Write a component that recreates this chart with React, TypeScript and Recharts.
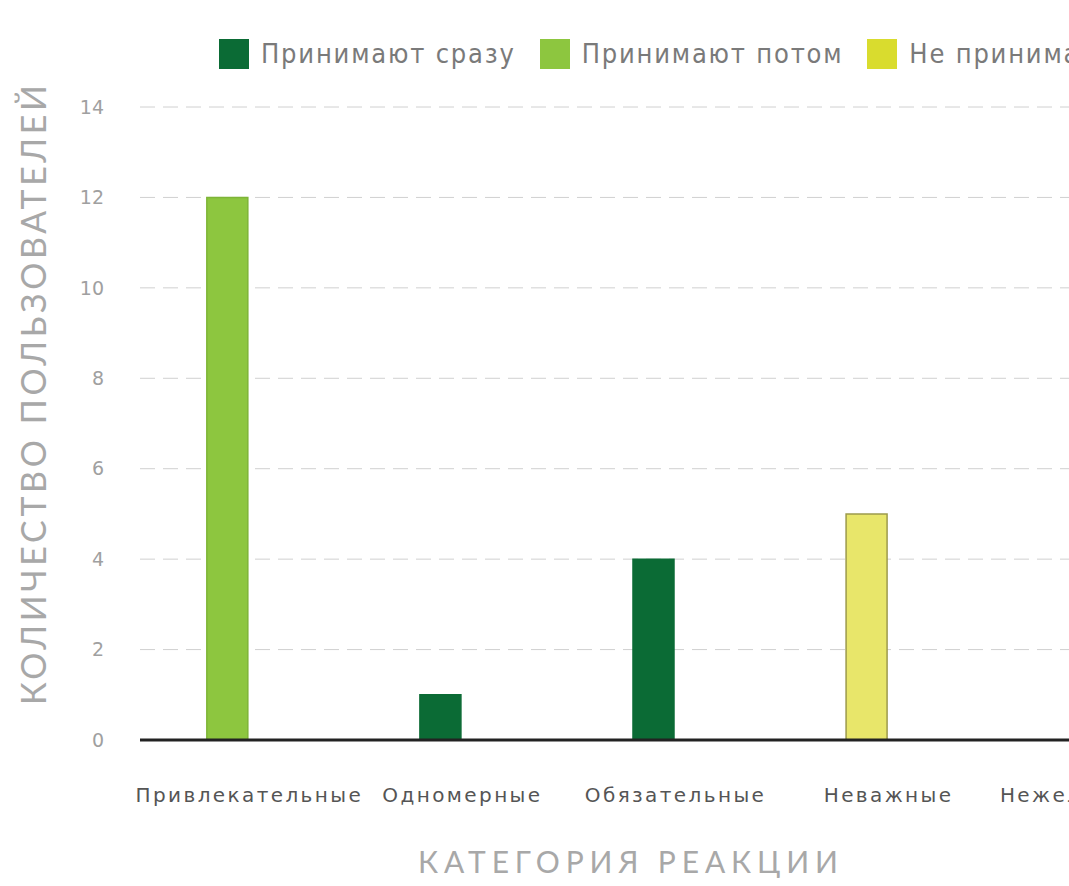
import { Bar, BarChart, CartesianGrid, Label, Legend, XAxis, YAxis } from "recharts";

const categories = ["Привлекательные", "Одномерные", "Обязательные", "Неважные", "Нежелательные"];
const acceptNow = [0, 1, 4, 0, 0];
const acceptLater = [12, 0, 0, 0, 0];
const reject = [0, 0, 0, 5, 0];
const yTicks = [0, 2, 4, 6, 8, 10, 12, 14];

const SERIES = [
  { key: "acceptNow", name: "Принимают сразу", fill: "#0b6b35", stroke: "#0b6b35", legend: "#0b6b35" },
  { key: "acceptLater", name: "Принимают потом", fill: "#8dc63f", stroke: "#7eb437", legend: "#8dc63f" },
  { key: "reject", name: "Не принимают", fill: "#e8e66a", stroke: "#9c9a4c", legend: "#d9dc2e" },
];

const rows = categories.map((c, i) => ({
  idx: i,
  label: c,
  acceptNow: acceptNow[i],
  acceptLater: acceptLater[i],
  reject: reject[i],
}));

const TICK_FONT = "'DejaVu Sans', sans-serif";
const TITLE_FONT = "Lato, 'Open Sans', sans-serif";

function CategoryTick({ x, y, payload }: { x?: number; y?: number; payload?: { value: number } }) {
  const name = categories[payload?.value ?? 0] ?? "";
  return (
    <text
      x={(x ?? 0) + 22}
      y={(y ?? 0) + 54}
      textAnchor="middle"
      fill="#555"
      fontSize={20}
      fontFamily={TICK_FONT}
      letterSpacing={2.4}
    >
      {name}
    </text>
  );
}

function LegendBox() {
  return (
    <div style={{ display: "flex", alignItems: "center", whiteSpace: "nowrap" }}>
      {SERIES.map((s) => (
        <span key={s.key} style={{ display: "flex", alignItems: "center", marginRight: 24 }}>
          <span style={{ width: 30, height: 30, background: s.legend, display: "inline-block", marginRight: 12 }} />
          <span
            style={{
              fontFamily: "'DejaVu Sans Condensed', 'DejaVu Sans', sans-serif",
              fontSize: 27,
              letterSpacing: 1.8,
              color: "#7a7a7a",
            }}
          >
            {s.name}
          </span>
        </span>
      ))}
    </div>
  );
}

export default function App() {
  return (
    <div
      style={{
        position: "absolute",
        left: 0,
        top: 0,
        width: 1069,
        height: 886,
        overflow: "hidden",
        background: "#fff",
      }}
    >
      <BarChart width={1300} height={886} data={rows} margin={{ top: 107, right: 20, bottom: 0, left: 0 }}>
        <CartesianGrid
          vertical={false}
          stroke="#d0d0d0"
          strokeDasharray="15 8"
          horizontalValues={yTicks.filter((t) => t > 0)}
        />
        <XAxis
          type="number"
          dataKey="idx"
          domain={[-0.41, 4.94]}
          ticks={[0, 1, 2, 3, 4]}
          allowDataOverflow
          height={146}
          tickLine={false}
          axisLine={{ stroke: "#222", strokeWidth: 3 }}
          tick={<CategoryTick />}
        >
          <Label
            content={() => (
              <text
                x={628}
                y={873}
                textAnchor="middle"
                fill="#a8a8a8"
                fontSize={30}
                fontFamily={TITLE_FONT}
                textLength={420}
                lengthAdjust="spacing"
              >
                КАТЕГОРИЯ РЕАКЦИИ
              </text>
            )}
          />
        </XAxis>
        <YAxis
          width={140}
          domain={[0, 14]}
          ticks={yTicks}
          tickLine={false}
          axisLine={false}
          tickMargin={30}
          tick={{ fill: "#a0a0a0", fontSize: 19, fontFamily: TICK_FONT }}
        >
          <Label
            content={() => (
              <text
                x={46}
                y={395}
                transform="rotate(-90, 46, 395)"
                textAnchor="middle"
                fill="#a8a8a8"
                fontSize={34}
                fontFamily={TITLE_FONT}
                textLength={620}
                lengthAdjust="spacing"
              >
                КОЛИЧЕСТВО ПОЛЬЗОВАТЕЛЕЙ
              </text>
            )}
          />
        </YAxis>
        <Legend
          verticalAlign="middle"
          align="center"
          layout="horizontal"
          wrapperStyle={{ top: 38, left: 219, width: 1100, height: 30 }}
          content={<LegendBox />}
        />
        {SERIES.map((s) => (
          <Bar
            key={s.key}
            dataKey={s.key}
            name={s.name}
            stackId="a"
            fill={s.fill}
            stroke={s.stroke}
            strokeWidth={1.5}
            barSize={41}
            isAnimationActive={false}
          />
        ))}
      </BarChart>
    </div>
  );
}
